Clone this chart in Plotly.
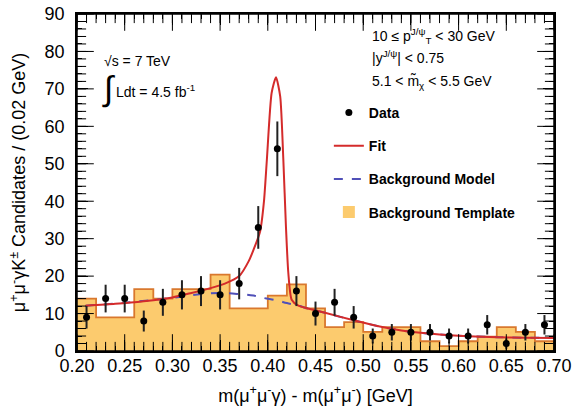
import numpy as np
import plotly.graph_objects as go

# ---- data ----
bin_centers = [0.21, 0.23, 0.25, 0.27, 0.29, 0.31, 0.33, 0.35, 0.37, 0.39,
               0.41, 0.43, 0.45, 0.47, 0.49, 0.51, 0.53, 0.55, 0.57, 0.59,
               0.61, 0.63, 0.65, 0.67, 0.69]
data_counts = [9, 14, 14, 8, 13, 15, 16, 15, 18, 33,
               54, 16, 10, 13, 9, 4, 5, 5, 5, 4,
               4, 7, 2, 5, 7]
data_errors = [3.0, 3.7, 3.7, 2.8, 3.6, 3.9, 4.0, 3.9, 4.2, 5.7,
               7.3, 4.0, 3.2, 3.6, 3.0, 2.0, 2.2, 2.2, 2.2, 2.0,
               2.0, 2.6, 1.4, 2.2, 2.6]
template_counts = [14, 9, 9, 16.5, 14, 16.5, 16.5, 20.4, 11.4, 11.4,
                   14.8, 17.8, 11.4, 6.4, 7.7, 5.1, 6.4, 6.4, 2.6, 1.3,
                   2.6, 3.8, 6.4, 5.1, 2.6]
bin_edges = [0.20, 0.22, 0.24, 0.26, 0.28, 0.30, 0.32, 0.34, 0.36, 0.38,
             0.40, 0.42, 0.44, 0.46, 0.48, 0.50, 0.52, 0.54, 0.56, 0.58,
             0.60, 0.62, 0.64, 0.66, 0.68, 0.70]

fit_x = [0.209, 0.24, 0.27, 0.30, 0.32, 0.34, 0.355, 0.37, 0.38, 0.385,
         0.392, 0.396, 0.399, 0.404, 0.4086, 0.413, 0.4163, 0.419, 0.4215,
         0.425, 0.432, 0.44, 0.46, 0.49, 0.52, 0.54, 0.56, 0.58, 0.61,
         0.64, 0.67, 0.70]
fit_y = [12.1, 12.6, 13.3, 14.3, 15.5, 16.8, 18.0, 20.0, 24.0, 27.0,
         32.0, 40.0, 51.0, 68.9, 73.1, 68.0, 51.0, 33.3, 20.9,
         13.7, 12.1, 11.5, 10.2, 8.2, 6.4, 5.5, 4.85, 4.4, 3.96,
         3.7, 3.55, 3.5]

bkg_x = [0.209, 0.25, 0.30, 0.33, 0.35, 0.37, 0.385, 0.395, 0.41, 0.42,
         0.432, 0.44, 0.46, 0.49, 0.52, 0.54, 0.56, 0.58, 0.61, 0.64,
         0.67, 0.70]
bkg_y = [12.1, 12.9, 14.2, 15.2, 15.5, 15.2, 14.8, 14.2, 13.5, 12.8,
         12.1, 11.5, 10.2, 8.2, 6.4, 5.5, 4.85, 4.4, 3.96, 3.7,
         3.55, 3.5]

x_range = [0.2, 0.7]
y_range = [0, 90]

FILL = "#FCCB6E"
EDGE = "#D9782E"
RED = "#D42B2B"
BLUE = "#5050B8"
FONT = "Liberation Sans, Arial, sans-serif"

fig = go.Figure()

# template fill (carries the legend entry)
fig.add_trace(go.Bar(
    x=bin_centers, y=template_counts, width=0.02,
    name="<b>Background Template</b>",
    marker=dict(color=FILL, line=dict(width=0)),
    legendrank=4, legendgroup="d", hoverinfo="skip"))
# template step outline
step_y = template_counts + [template_counts[-1]]
fig.add_trace(go.Scatter(
    x=bin_edges, y=step_y, mode="lines", line_shape="hv",
    line=dict(color=EDGE, width=1.8), showlegend=False, hoverinfo="skip"))

fig.add_trace(go.Scatter(
    x=bkg_x, y=bkg_y, mode="lines", name="<b>Background Model</b>",
    line=dict(color=BLUE, width=2, dash="dash"), line_shape="spline",
    legendrank=3, legendgroup="c"))
fig.add_trace(go.Scatter(
    x=fit_x, y=fit_y, mode="lines", name="<b>Fit</b>",
    line=dict(color=RED, width=2), line_shape="spline",
    line_smoothing=0.6, legendrank=2, legendgroup="b"))
fig.add_trace(go.Scatter(
    x=bin_centers, y=data_counts, mode="markers", name="<b>Data</b>",
    marker=dict(color="black", size=7),
    error_y=dict(type="data", array=data_errors, color="#222222",
                 thickness=2, width=0),
    legendrank=1, legendgroup="a"))

# ---- inside ticks on all four sides (axis decoration from the axis ranges) ----
x_major = np.linspace(x_range[0], x_range[1], 11)
x_minor = np.linspace(x_range[0], x_range[1], 51)
y_major = np.arange(y_range[0], y_range[1] + 1, 10)
y_minor = np.arange(y_range[0], y_range[1] + 1, 2)


def tick_trace(xs, ys, symbol, size):
    return go.Scatter(
        x=xs, y=ys, mode="markers", cliponaxis=True,
        marker=dict(symbol=symbol, size=size, color="black",
                    line=dict(width=1, color="black")),
        showlegend=False, hoverinfo="skip")


for xs_, sz in ((x_minor, 13), (x_major, 24)):
    n = len(xs_)
    fig.add_trace(tick_trace(np.concatenate([xs_, xs_]),
                             [y_range[0]] * n + [y_range[1]] * n,
                             "line-ns", sz))
for ys_, sz in ((y_minor, 13), (y_major, 24)):
    n = len(ys_)
    fig.add_trace(tick_trace([x_range[0]] * n + [x_range[1]] * n,
                             np.concatenate([ys_, ys_]),
                             "line-ew", sz))

tickfont = dict(family=FONT, size=18, color="black")

fig.update_layout(
    xaxis=dict(
        range=x_range, dtick=0.05, tick0=0.2, tickformat=".2f",
        showline=True, linecolor="black", linewidth=1.5, mirror="allticks",
        ticks="inside", ticklen=11, tickwidth=1, tickcolor="black",
        showgrid=False, zeroline=False, automargin=False, tickfont=tickfont,
        ticklabelstandoff=-2,
        minor=dict(dtick=0.01, ticks="inside", ticklen=5, tickcolor="black"),
        title=dict(text="m(μ<sup>+</sup>μ<sup>-</sup>γ) - m(μ<sup>+</sup>μ<sup>-</sup>) [GeV]",
                   font=dict(family=FONT, size=18, color="black"), standoff=14)),
    yaxis=dict(
        range=y_range, dtick=10,
        showline=True, linecolor="black", linewidth=1.5, mirror="allticks",
        ticks="inside", ticklen=11, tickwidth=1, tickcolor="black",
        showgrid=False, zeroline=False, automargin=False, tickfont=tickfont,
        ticklabelstandoff=7,
        minor=dict(dtick=2, ticks="inside", ticklen=5, tickcolor="black"),
        title=dict(text="μ<sup>+</sup>μ<sup>-</sup>γK<sup>±</sup> Candidates / (0.02 GeV)",
                   font=dict(family=FONT, size=18, color="black"), standoff=14)),
)

# frame around the plotting area
fig.add_shape(type="rect", xref="paper", yref="paper", x0=0, x1=1, y0=0, y1=1,
              line=dict(color="black", width=1.5), layer="above")

ann_font = dict(family=FONT, size=14, color="black")
fig.add_annotation(xref="paper", yref="paper", x=0.052, y=0.862,
                   xanchor="left", yanchor="middle", showarrow=False,
                   text="√s = 7 TeV", font=ann_font)
fig.add_annotation(xref="paper", yref="paper", x=0.048, y=0.779,
                   xanchor="left", yanchor="middle", showarrow=False,
                   text="∫", font=dict(family=FONT, size=34, color="black"))
fig.add_annotation(xref="paper", yref="paper", x=0.077, y=0.772,
                   xanchor="left", yanchor="middle", showarrow=False,
                   text="Ldt = 4.5 fb<sup>-1</sup>", font=ann_font)

fig.add_annotation(xref="paper", yref="paper", x=0.615, y=0.934,
                   xanchor="left", yanchor="middle", showarrow=False,
                   text="10 ≤ p<sup>J/ψ</sup><sub>T</sub> < 30 GeV", font=ann_font)
fig.add_annotation(xref="paper", yref="paper", x=0.615, y=0.872,
                   xanchor="left", yanchor="middle", showarrow=False,
                   text="|y<sup>J/ψ</sup>| < 0.75", font=ann_font)
fig.add_annotation(xref="paper", yref="paper", x=0.615, y=0.798,
                   xanchor="left", yanchor="middle", showarrow=False,
                   text="5.1 < m̃<sub>χ</sub> < 5.5 GeV", font=ann_font)

fig.update_layout(
    width=579, height=413,
    margin=dict(l=77, r=25, t=14, b=62),
    paper_bgcolor="white", plot_bgcolor="white",
    barmode="overlay", bargap=0,
    showlegend=True,
    legend=dict(x=0.528, y=0.754, xanchor="left", yanchor="top",
                bgcolor="rgba(0,0,0,0)", traceorder="grouped",
                tracegroupgap=12, itemwidth=30,
                font=dict(family=FONT, size=14, color="black")),
)

fig.write_html("out.html", config={"displayModeBar": False},
               post_script="document.body.style.margin='0';")
